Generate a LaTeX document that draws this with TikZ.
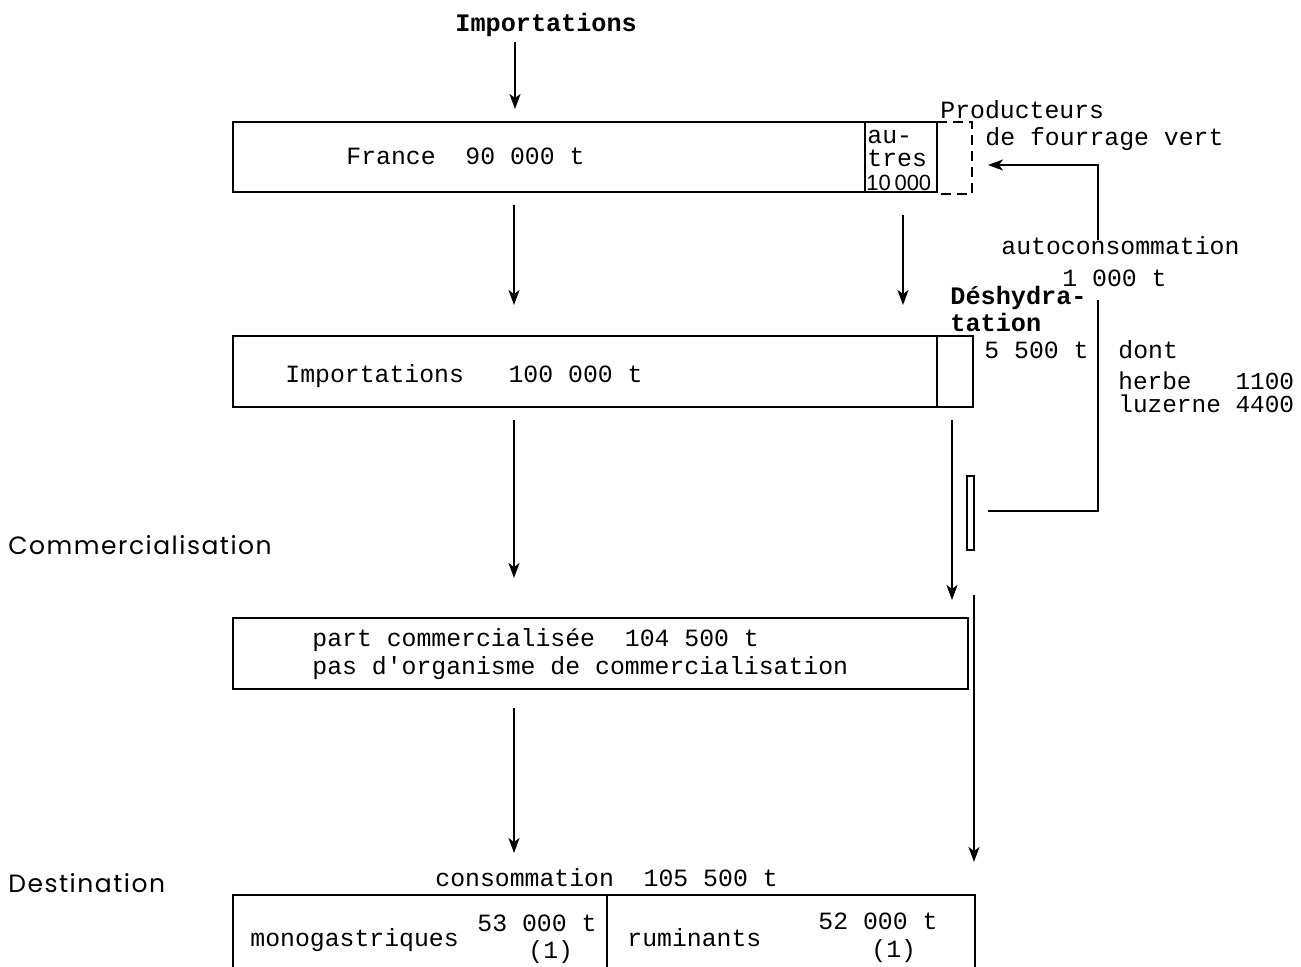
\documentclass[tikz,border=0pt]{standalone}
\usepackage{fontspec}
\setmainfont{Liberation Mono}[Ligatures=TeXOff]
\newfontfamily\labelfont[LetterSpace=6]{Poppins}
\newfontfamily\stampfont{Liberation Sans}
\usetikzlibrary{arrows.meta}
\tikzset{
  txt/.style={inner sep=0pt, anchor=west, font=\fontsize{12.4}{14}\selectfont},
  btxt/.style={txt, font=\fontsize{12.6}{14}\selectfont\bfseries},
  side/.style={inner sep=0pt, anchor=west, font=\fontsize{12.5}{14}\selectfont\labelfont},
  box/.style={draw, line width=0.9pt, inner sep=0pt},
  flow/.style={line width=0.9pt, -{Stealth[length=7.5pt,width=5.5pt,inset=2pt]}},
  link/.style={line width=0.9pt}
}
\begin{document}
\begin{tikzpicture}[x=0.5pt,y=-0.5pt]
\useasboundingbox (0,0) rectangle (1301,967);

% --- top: imports ---
\node[btxt] (imptop) at (455,25) {Importations};
\coordinate (a0s) at (515,42);
\coordinate (a0e) at (515,109);
\draw[flow] (a0s) -- (a0e);

% --- first bar: France / autres ---
\node[box, minimum width=352pt, minimum height=35pt] (france) at (585,157) {};
\coordinate (fdivT) at (865,122);
\coordinate (fdivB) at (865,192);
\draw[link] (fdivT) -- (fdivB);
\node[txt] (francet) at (346,156) {France\ \ 90 000 t};
\node[txt] (au) at (867,137) {au-};
\node[txt] (tres) at (867,158) {tres};
\node[inner sep=0pt, anchor=west, font=\fontsize{11}{12}\selectfont\stampfont] (dixmille) at (866,183) {10\,000};

% dashed box of green forage producers
\coordinate (dq1) at (937,122);
\coordinate (dq2) at (972,122);
\coordinate (dq3) at (972,194);
\coordinate (dq4) at (937,194);
\draw[line width=0.9pt, dashed, dash pattern=on 5pt off 3pt] (dq1) -- (dq2) -- (dq3) -- (dq4);
\node[txt] (prod) at (940,110) {Producteurs};
\node[txt] (fourr) at (985,139) {de fourrage vert};

% self-consumption return loop
\coordinate (rl1) at (1098,240);
\coordinate (rl2) at (1098,165);
\coordinate (rl3) at (988,165);
\draw[flow] (rl1) -- (rl2) -- (rl3);
\node[txt] (autoc) at (1001,246) {autoconsommation};
\node[txt] (mille) at (1062,278) {1 000 t};

% --- arrows to second bar ---
\coordinate (a1s) at (514,205);
\coordinate (a1e) at (514,305);
\draw[flow] (a1s) -- (a1e);
\coordinate (a2s) at (903,215);
\coordinate (a2e) at (903,305);
\draw[flow] (a2s) -- (a2e);

\node[btxt] (desh) at (950,298) {Déshydra-};
\node[btxt] (tation) at (950,322) {tation};

% --- second bar: imports + dehydration ---
\node[box, minimum width=370pt, minimum height=35.5pt] (imp) at (603,371.5) {};
\coordinate (idivT) at (937,336);
\coordinate (idivB) at (937,407);
\draw[link] (idivT) -- (idivB);
\node[txt] (impt) at (285,376) {Importations\ \ \ 100 000 t};
\node[txt] (cinq) at (984,350) {5 500 t};
\node[txt] (dont) at (1118,350) {dont};
\node[txt, align=left, font=\fontsize{12.2}{11.5}\selectfont] (detail) at (1118,392)
  {herbe\ \ \ 1100\\luzerne 4400};

% dehydration side line
\coordinate (dl1) at (1098,300);
\coordinate (dl2) at (1098,511);
\coordinate (dl3) at (988,511);
\draw[link] (dl1) -- (dl2) -- (dl3);
\node[draw, line width=0.7pt, inner sep=0pt, minimum width=3.5pt, minimum height=37pt] (slot) at (970.5,513) {};

% --- arrows to third bar ---
\coordinate (a3s) at (514,420);
\coordinate (a3e) at (514,578);
\draw[flow] (a3s) -- (a3e);
\coordinate (a4s) at (952,420);
\coordinate (a4e) at (952,600);
\draw[flow] (a4s) -- (a4e);

\node[side] (comm) at (8,545) {Commercialisation};

% --- third bar: marketed share ---
\node[box, minimum width=367.5pt, minimum height=35.5pt] (part) at (600.5,653.5) {};
\node[txt] (part1) at (312,640) {part commercialisée\ \ 104 500 t};
\node[txt] (part2) at (312,668) {pas d'organisme de commercialisation};

% --- arrows to destination ---
\coordinate (a5s) at (514,708);
\coordinate (a5e) at (514,853);
\draw[flow] (a5s) -- (a5e);
\coordinate (a6s) at (974,595);
\coordinate (a6e) at (974,862);
\draw[flow] (a6s) -- (a6e);

\node[side] (dest) at (8,883) {Destination};
\node[txt] (conso) at (435,878) {consommation\ \ 105 500 t};

% --- destination bar (open at the page edge) ---
\coordinate (d1) at (233,970);
\coordinate (d2) at (233,895);
\coordinate (d3) at (975,895);
\coordinate (d4) at (975,970);
\draw[link] (d1) -- (d2) -- (d3) -- (d4);
\coordinate (ddT) at (607,895);
\coordinate (ddB) at (607,970);
\draw[link] (ddT) -- (ddB);
\node[txt] (mono) at (250,940) {monogastriques};
\node[txt] (monov) at (477,923) {53 000 t};
\node[txt] (monon) at (528,952) {(1)};
\node[txt] (rum) at (627,938) {ruminants};
\node[txt] (rumv) at (818,921) {52 000 t};
\node[txt] (rumn) at (871,951) {(1)};
\end{tikzpicture}
\end{document}
